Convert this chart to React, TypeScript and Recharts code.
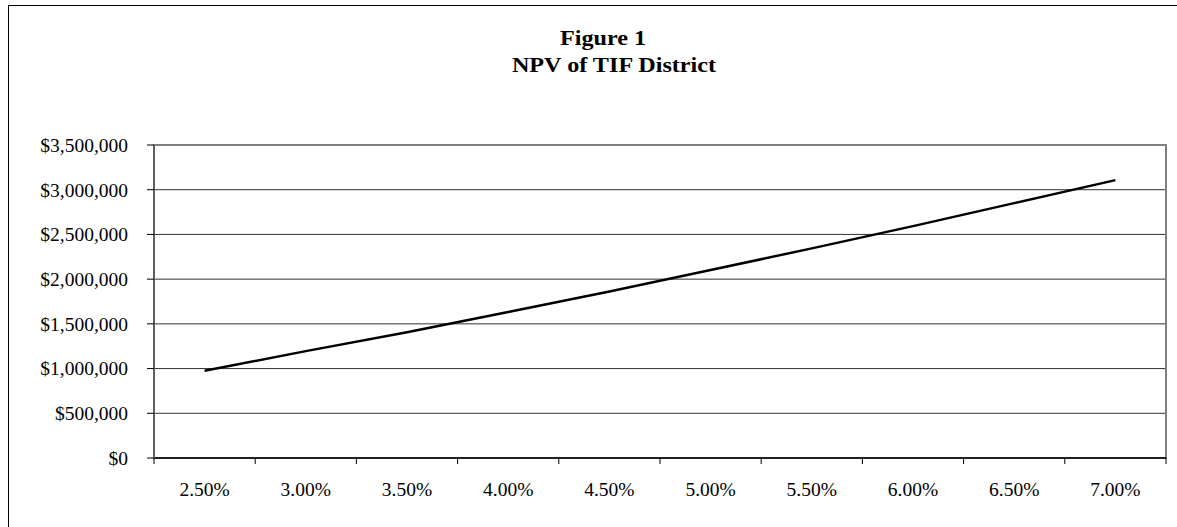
import { LineChart, Line, XAxis, YAxis, CartesianGrid, ReferenceArea } from 'recharts';

// discount rates shown on the category axis
const rates = ['2.50%', '3.00%', '3.50%', '4.00%', '4.50%', '5.00%', '5.50%', '6.00%', '6.50%', '7.00%'];
// NPV
const npv = [975000, 1195000, 1405000, 1632000, 1861000, 2102000, 2344000, 2593000, 2850000, 3107000];
const yTicks = [0, 500000, 1000000, 1500000, 2000000, 2500000, 3000000, 3500000];

const FONT = '"Liberation Serif", "Times New Roman", serif';

// points sit in the middle of each category slot, like Excel
const data = rates.map((rate, i) => ({ rate, pos: i + 0.5, npv: npv[i] }));
// integer ticks = tick marks between categories, half ticks = labels
const xTicks = [...rates.flatMap((_, i) => [i, i + 0.5]), rates.length];

const money = (v: number) => '$' + v.toLocaleString('en-US');

function RateTick(props: any) {
    const { x, y, payload } = props;
    const v = payload.value as number;
    if (Number.isInteger(v)) {
        return <line x1={x} x2={x} y1={y} y2={y + 6} stroke="#000" strokeWidth={1} />;
    }
    return (
        <text x={x} y={y + 38} textAnchor="middle" fontFamily={FONT} fontSize={19.5} fill="#000">
            {rates[Math.floor(v)]}
        </text>
    );
}

const titleStyle: React.CSSProperties = {
    position: 'absolute',
    width: 300,
    textAlign: 'center',
    fontFamily: FONT,
    fontWeight: 'bold',
    fontSize: 21,
    lineHeight: '24px',
    color: '#000',
    transform: 'scaleX(1.15)',
    transformOrigin: 'center',
    whiteSpace: 'nowrap',
};

export default function App() {
    return (
        <div style={{ position: 'absolute', left: 0, top: 0, width: 1177, height: 527, overflow: 'hidden', background: '#fff' }}>
            <div
                style={{
                    position: 'absolute',
                    left: 8,
                    top: 5,
                    width: 1300,
                    height: 600,
                    borderTop: '1.5px solid #000',
                    borderLeft: '1.5px solid #000',
                }}
            />
            <div style={{ ...titleStyle, left: 453, top: 26 }}>Figure 1</div>
            <div style={{ ...titleStyle, left: 464, top: 53 }}>NPV of TIF District</div>
            <div style={{ position: 'absolute', left: 0, top: 0 }}>
                <LineChart width={1177} height={527} data={data} margin={{ top: 145, right: 11, bottom: 0, left: 0 }}>
                    <CartesianGrid vertical={false} stroke="#333" strokeWidth={1} />
                    <ReferenceArea x1={0} x2={10} y1={0} y2={3500000} fill="none" stroke="#808080" strokeWidth={2} />
                    <XAxis
                        dataKey="pos"
                        type="number"
                        domain={[0, rates.length]}
                        ticks={xTicks}
                        interval={0}
                        height={69}
                        tickSize={0}
                        tickMargin={0}
                        tickLine={false}
                        axisLine={{ stroke: '#000', strokeWidth: 1.5 }}
                        tick={<RateTick />}
                    />
                    <YAxis
                        type="number"
                        domain={[0, 3500000]}
                        ticks={yTicks}
                        interval={0}
                        width={154}
                        tickSize={7}
                        tickMargin={19}
                        tickFormatter={money}
                        tickLine={{ stroke: '#000' }}
                        axisLine={{ stroke: '#606060', strokeWidth: 2 }}
                        tick={{ fontFamily: FONT, fontSize: 19.5, fill: '#000' }}
                    />
                    <Line
                        type="linear"
                        dataKey="npv"
                        stroke="#000"
                        strokeWidth={2.5}
                        dot={false}
                        isAnimationActive={false}
                    />
                </LineChart>
            </div>
        </div>
    );
}
